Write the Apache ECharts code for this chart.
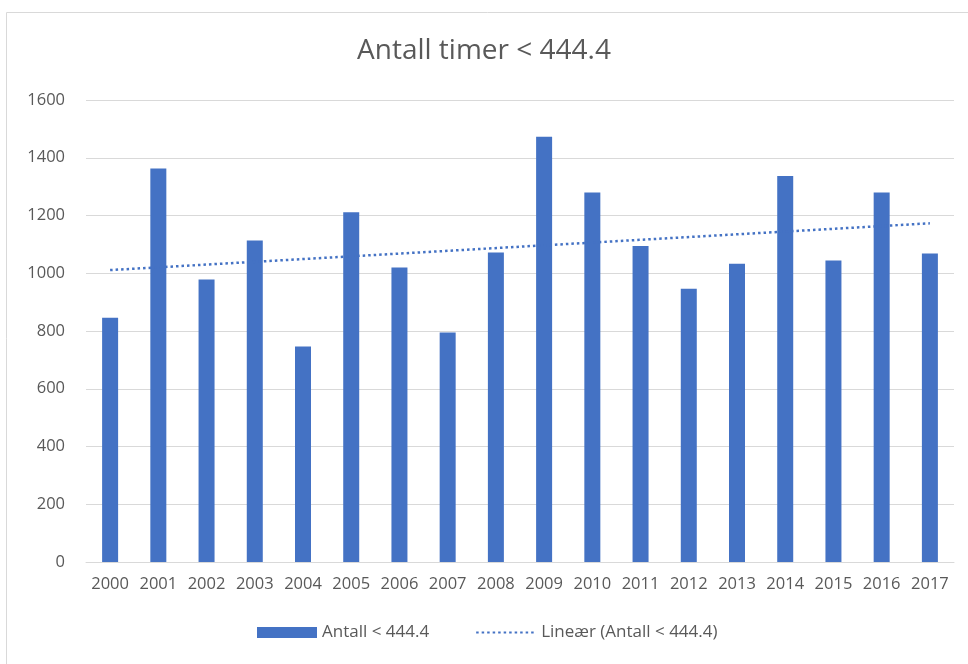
<!DOCTYPE html>
<html>
<head>
<meta charset="utf-8">
<script src="https://cdn.jsdelivr.net/npm/echarts@6/dist/echarts.min.js"></script>
<style>
  html, body { margin: 0; padding: 0; background: #fff; }
  #chart { width: 968px; height: 664px; }
</style>
</head>
<body>
<div id="chart"></div>
<script>
// år og verdier
const years = ["2000", "2001", "2002", "2003", "2004", "2005", "2006", "2007", "2008",
  "2009", "2010", "2011", "2012", "2013", "2014", "2015", "2016", "2017"];
const antall = [846, 1363, 978, 1113, 746, 1211, 1020, 795, 1072,
  1473, 1280, 1094, 946, 1033, 1337, 1044, 1280, 1068];
// trendlinje: endepunkter avlest
const trendYears = ["2000", "2017"];
const trendValues = [1011, 1173];
const yTicks = [0, 200, 400, 600, 800, 1000, 1200, 1400, 1600];

const textColor = "#595959";
const font = "'Open Sans', 'Liberation Sans', sans-serif";

let myChart = echarts.init(document.getElementById("chart"));
myChart.setOption({
  animation: false,
  title: {
    text: "Antall timer < 444.4",
    left: "center",
    top: 32,
    textStyle: { color: textColor, fontSize: 28, fontWeight: "normal", fontFamily: font },
  },
  graphic: [
    {
      type: "rect",
      shape: { x: 6.5, y: 12.5, width: 1000, height: 700 },
      style: { fill: "none", stroke: "#d9d9d9", lineWidth: 1 },
      silent: true,
    },
  ],
  grid: { left: 86, right: 14, top: 100, bottom: 102 },
  legend: {
    bottom: 18,
    left: 252,
    itemWidth: 60,
    itemHeight: 11,
    itemGap: 46,
    textStyle: { color: textColor, fontSize: 17, fontFamily: font },
    data: [
      { name: "Antall < 444.4", icon: "rect" },
      { name: "Lineær (Antall < 444.4)", itemStyle: { opacity: 0 } },
    ],
  },
  xAxis: {
    type: "category",
    data: years,
    axisTick: { show: false },
    axisLine: { lineStyle: { color: "#d9d9d9" } },
    axisLabel: { color: textColor, fontSize: 16.5, fontFamily: font, margin: 14, interval: 0 },
  },
  yAxis: {
    type: "value",
    min: yTicks[0],
    max: yTicks[yTicks.length - 1],
    interval: 200,
    axisLabel: {
      color: textColor, fontSize: 16.5, fontFamily: font, margin: 21,
      formatter: (v) => String(v),
    },
    splitLine: { lineStyle: { color: "#d9d9d9" } },
    axisLine: { show: false },
    axisTick: { show: false },
  },
  series: [
    {
      name: "Antall < 444.4",
      type: "bar",
      data: antall,
      barWidth: 16,
      itemStyle: { color: "#4472c4" },
    },
    {
      name: "Lineær (Antall < 444.4)",
      type: "line",
      data: trendYears.map((y, i) => [y, trendValues[i]]),
      showSymbol: false,
      symbol: "none",
      lineStyle: { color: "#4472c4", width: 2.5, type: [2.5, 3] },
      itemStyle: { color: "#4472c4" },
      z: 3,
    },
  ],
});
window.onresize = myChart.resize;
</script>
</body>
</html>
